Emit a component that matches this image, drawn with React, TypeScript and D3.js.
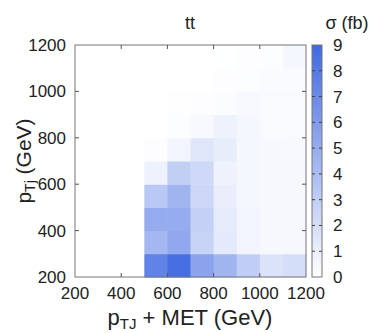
import React, { useEffect, useRef } from 'react';
import * as d3 from 'd3';

// bin edges (GeV)
const xBins = [200, 300, 400, 500, 600, 700, 800, 900, 1000, 1100];
const yBins = [200, 300, 400, 500, 600, 700, 800, 900, 1000, 1100];
const binWidth = 100;

// sigma (fb) per row of p_Tj, columns follow xBins
const row200 = [0, 0, 0, 7.5, 8.7, 5.5, 4.5, 3.0, 1.7, 2.0];
const row300 = [0, 0, 0, 4.3, 5.2, 2.6, 1.3, 0.6, 0.4, 0.4];
const row400 = [0, 0, 0, 5.0, 5.0, 2.8, 1.2, 0.6, 0.4, 0.4];
const row500 = [0, 0, 0, 3.3, 4.5, 2.4, 1.0, 0.5, 0.4, 0.4];
const row600 = [0, 0, 0, 0.8, 2.9, 2.3, 0.8, 0.5, 0.4, 0.4];
const row700 = [0, 0, 0, 0.1, 0.6, 1.5, 1.1, 0.5, 0.4, 0.35];
const row800 = [0, 0, 0, 0, 0.15, 0.35, 0.8, 0.5, 0.3, 0.3];
const row900 = [0, 0, 0, 0, 0.05, 0.1, 0.2, 0.35, 0.3, 0.3];
const row1000 = [0, 0, 0, 0, 0, 0.02, 0.1, 0.15, 0.25, 0.25];
const row1100 = [0, 0, 0, 0, 0, 0, 0.03, 0.1, 0.15, 0.5];
const rows = [row200, row300, row400, row500, row600, row700, row800, row900, row1000, row1100];

const axisTicks = [200, 400, 600, 800, 1000, 1200];
const colorTicks = [0, 1, 2, 3, 4, 5, 6, 7, 8, 9];

const FONT = '"Liberation Sans", Arial, Helvetica, sans-serif';

const App = () => {
  const ref = useRef<SVGSVGElement>(null);

  useEffect(() => {
    const svg = d3.select(ref.current);
    svg.selectAll('*').remove();

    const left = 75, right = 306, top = 45, bottom = 277;
    const x = d3.scaleLinear().domain([200, 1200]).range([left, right]);
    const y = d3.scaleLinear().domain([200, 1200]).range([bottom, top]);
    const color = d3.scaleLinear<string>().domain([0, 9]).range(['#ffffff', '#4169e1']).clamp(true);

    const cells: { x: number; y: number; v: number }[] = [];
    rows.forEach((r, i) => r.forEach((v, j) => cells.push({ x: xBins[j], y: yBins[i], v })));

    svg.append('g')
      .selectAll('rect')
      .data(cells)
      .join('rect')
      .attr('x', (d) => x(d.x))
      .attr('y', (d) => y(d.y + binWidth))
      .attr('width', (d) => x(d.x + binWidth) - x(d.x) + 0.5)
      .attr('height', (d) => y(d.y) - y(d.y + binWidth) + 0.5)
      .attr('fill', (d) => color(d.v));

    // frame
    svg.append('rect')
      .attr('x', left).attr('y', top)
      .attr('width', right - left).attr('height', bottom - top)
      .attr('fill', 'none').attr('stroke', '#777').attr('stroke-width', 1);

    const tl = 4;
    const g = svg.append('g').attr('stroke', '#555').attr('stroke-width', 1);
    axisTicks.slice(1, -1).forEach((t) => {
      g.append('line').attr('x1', x(t)).attr('x2', x(t)).attr('y1', bottom).attr('y2', bottom - tl);
      g.append('line').attr('x1', x(t)).attr('x2', x(t)).attr('y1', top).attr('y2', top + tl);
      g.append('line').attr('y1', y(t)).attr('y2', y(t)).attr('x1', left).attr('x2', left + tl);
      g.append('line').attr('y1', y(t)).attr('y2', y(t)).attr('x1', right).attr('x2', right - tl);
    });

    // tick labels
    svg.append('g')
      .selectAll('text')
      .data(axisTicks)
      .join('text')
      .attr('x', (d) => x(d))
      .attr('y', 299)
      .attr('text-anchor', 'middle')
      .attr('font-family', FONT)
      .attr('font-size', 17)
      .attr('fill', '#222')
      .text((d) => d);

    svg.append('g')
      .selectAll('text')
      .data(axisTicks)
      .join('text')
      .attr('x', 66)
      .attr('y', (d) => y(d) + 6)
      .attr('text-anchor', 'end')
      .attr('font-family', FONT)
      .attr('font-size', 17)
      .attr('fill', '#222')
      .text((d) => d);

    // colour bar
    const cbL = 312, cbR = 322;
    const cy = d3.scaleLinear().domain([0, 9]).range([bottom, top]);
    const grad = svg.append('defs').append('linearGradient')
      .attr('id', 'cbgrad').attr('x1', 0).attr('x2', 0).attr('y1', 1).attr('y2', 0);
    grad.append('stop').attr('offset', '0%').attr('stop-color', color(0));
    grad.append('stop').attr('offset', '100%').attr('stop-color', color(9));
    svg.append('rect')
      .attr('x', cbL).attr('y', top).attr('width', cbR - cbL).attr('height', bottom - top)
      .attr('fill', 'url(#cbgrad)').attr('stroke', '#777');
    const cg = svg.append('g').attr('stroke', '#444').attr('stroke-width', 1);
    colorTicks.slice(1, -1).forEach((t) => {
      cg.append('line').attr('x1', cbL).attr('x2', cbL + 3).attr('y1', cy(t)).attr('y2', cy(t));
      cg.append('line').attr('x1', cbR - 3).attr('x2', cbR).attr('y1', cy(t)).attr('y2', cy(t));
    });
    svg.append('g')
      .selectAll('text')
      .data(colorTicks)
      .join('text')
      .attr('x', 333)
      .attr('y', (d) => cy(d) + 6)
      .attr('font-family', FONT)
      .attr('font-size', 17)
      .attr('fill', '#222')
      .text((d) => d);

    // titles
    svg.append('text')
      .attr('x', 190).attr('y', 29)
      .attr('text-anchor', 'middle')
      .attr('font-family', FONT).attr('font-size', 18).attr('fill', '#222')
      .text('tt');
    svg.append('text')
      .attr('x', 347).attr('y', 29)
      .attr('text-anchor', 'middle')
      .attr('font-family', FONT).attr('font-size', 18).attr('fill', '#222')
      .text('σ (fb)');

    const xl = svg.append('text')
      .attr('x', 190).attr('y', 325)
      .attr('text-anchor', 'middle')
      .attr('font-family', FONT).attr('font-size', 22).attr('fill', '#222');
    xl.append('tspan').text('p');
    xl.append('tspan').attr('font-size', 15).attr('dy', 4).text('TJ');
    xl.append('tspan').attr('dy', -4).text(' + MET (GeV)');

    const yl = svg.append('text')
      .attr('transform', 'translate(31,161) rotate(-90)')
      .attr('text-anchor', 'middle')
      .attr('font-family', FONT).attr('font-size', 21).attr('fill', '#222');
    yl.append('tspan').text('p');
    yl.append('tspan').attr('font-size', 14).attr('dy', 4).text('Tj');
    yl.append('tspan').attr('dy', -4).text(' (GeV)');
  }, []);

  return (
    <svg
      ref={ref}
      width={381}
      height={333}
      style={{ position: 'absolute', left: 0, top: 0, background: '#fff' }}
    />
  );
};

export default App;
